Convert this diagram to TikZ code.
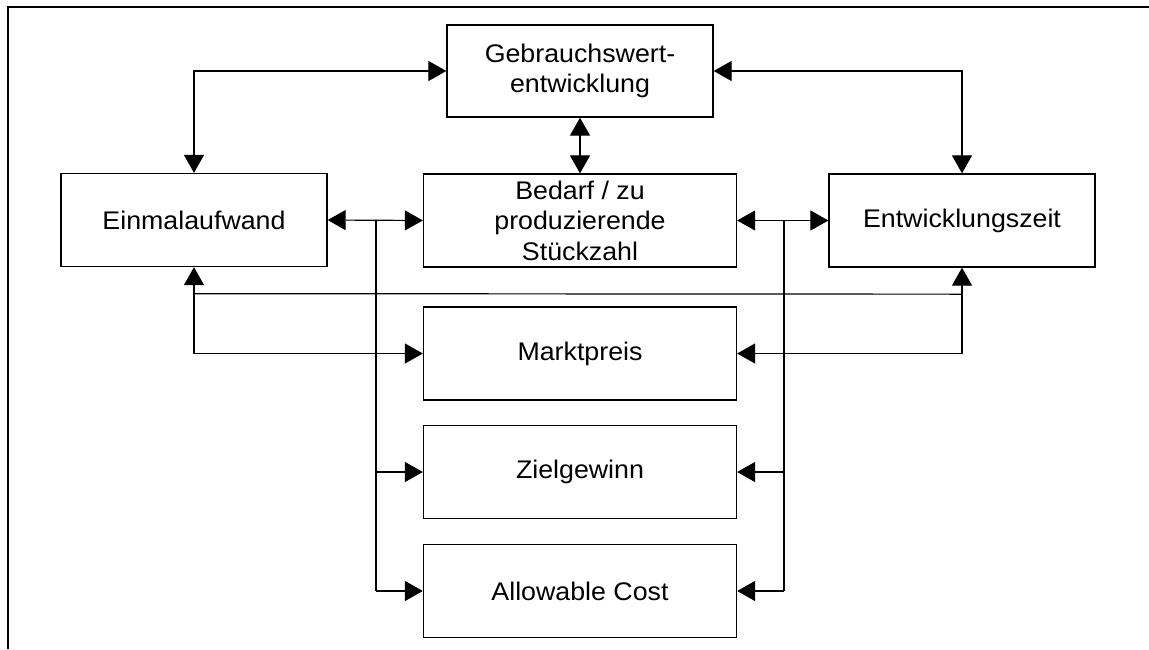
\documentclass[tikz,border=0pt]{standalone}
\usepackage{fontspec}
\setmainfont{Liberation Sans}[FakeStretch=1.05]
\usetikzlibrary{arrows.meta,calc}
\begin{document}
\begin{tikzpicture}[x=1pt,y=-1pt,
 box/.style={draw,line width=1.3pt,minimum width=266pt,minimum height=93pt,inner sep=0pt,align=center,font=\fontsize{25.5}{30.5}\selectfont},
 wide/.style={box,minimum width=313pt},
 conn/.style={line width=1.2pt},
 tip/.style={-{Triangle[length=18pt,width=20pt]}},
 both/.style={{Triangle[length=18pt,width=20pt]}-{Triangle[length=18pt,width=20pt]}}
]
\useasboundingbox (0,0) rectangle (1149,649);
\draw[line width=2pt] (8,649) -- (8,7) -- (1149,7);

\node[box,minimum height=92pt] (G) at (580,71) {Gebrauchswert-\\entwicklung};
\node[box] (E) at (194,220) {Einmalaufwand};
\node[wide] (B) at (580,220.5) {Bedarf / zu\\produzierende\\Stückzahl};
\node[box] (Z) at (962,220.5) {Entwicklungszeit};
\node[wide] (M) at (580,353.5) {Marktpreis};
\node[wide] (Zi) at (580,472) {Zielgewinn};
\node[wide] (A) at (580,591) {Allowable Cost};

\coordinate (jl) at (376,220.5);
\coordinate (jr) at (784,220.5);

\draw[conn,both] (E.north) |- (G.west);
\draw[conn,both] (Z.north) |- (G.east);
\draw[conn,both] (G.south) -- (B.north);
\draw[conn,both] (E.east) -- (B.west);
\draw[conn,both] (B.east) -- (Z.west);

\draw[conn] (jl) -- (jl |- A.west);
\draw[conn,tip] (jl |- Zi.west) -- (Zi.west);
\draw[conn,tip] (jl |- A.west) -- (A.west);
\draw[conn] (jr) -- (jr |- A.east);
\draw[conn,tip] (jr |- Zi.east) -- (Zi.east);
\draw[conn,tip] (jr |- A.east) -- (A.east);

\draw[conn,both] (E.south) |- (M.west);
\draw[conn,both] (Z.south) |- (M.east);
\draw[conn] ($(E.south)+(0,26.5)$) -- ($(Z.south)+(0,26.5)$);
\end{tikzpicture}
\end{document}
